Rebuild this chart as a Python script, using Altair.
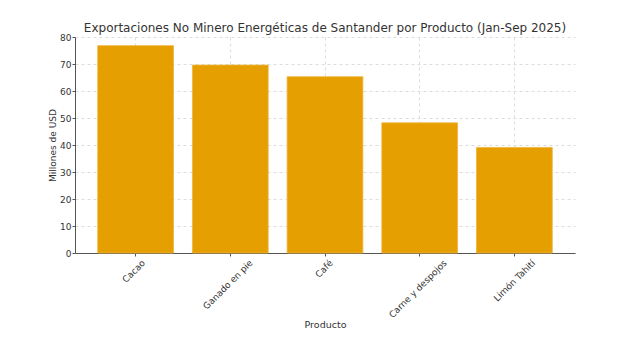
import altair as alt
import pandas as pd

productos = ["Cacao", "Ganado en pie", "Café", "Carne y despojos", "Limón Tahití"]
valores = [76.8, 69.6, 65.3, 48.2, 39.1]

df = pd.DataFrame({"Producto": productos, "Valor": valores})

font = "DejaVu Sans"

chart = alt.Chart(df).mark_bar(color="#E69F00", stroke="#F0B43C", strokeWidth=0.8).encode(
    x=alt.X("Producto:N", sort=productos, title="Producto",
            scale=alt.Scale(paddingInner=0.2, paddingOuter=0.24),
            axis=alt.Axis(labelAngle=-45, labelAlign="right", labelBaseline="middle",
                          labelOffset={"expr": "1.6 * length(datum.label)"},
                          labelPadding=5, bandPosition=0.5,
                          grid=True, gridDash=[3, 3], gridColor="#dddddd",
                          domainColor="#555555", tickColor="#555555", tickSize=3,
                          labelColor="#333333", labelFontSize=9, labelFont=font,
                          titleFont=font, titleFontSize=9.5, titleFontWeight="normal",
                          titleColor="#333333", titleY=71, titleBaseline="middle")),
    y=alt.Y("Valor:Q", title="Millones de USD",
            scale=alt.Scale(domain=[0, 80], nice=False),
            axis=alt.Axis(values=[0, 10, 20, 30, 40, 50, 60, 70, 80],
                          grid=True, gridDash=[3, 3], gridColor="#dddddd",
                          domainColor="#555555", tickColor="#555555", tickSize=3,
                          labelPadding=1,
                          labelColor="#333333", labelFontSize=9, labelFont=font,
                          titleFont=font, titleFontSize=9, titleFontWeight="normal",
                          titleColor="#333333", titlePadding=2)),
).properties(
    width=500, height=216,
    title=alt.TitleParams("Exportaciones No Minero Energéticas de Santander por Producto (Jan-Sep 2025)",
                          font=font, fontSize=12, fontWeight="normal", color="#333333",
                          anchor="middle", offset=-2),
    autosize=alt.AutoSizeParams(type="none"),
    padding={"left": 75, "top": 37, "right": 67, "bottom": 86},
).configure_view(stroke=None).configure_axis(domainWidth=1)

chart.save("out.html", embed_options={"renderer": "svg", "actions": False})
